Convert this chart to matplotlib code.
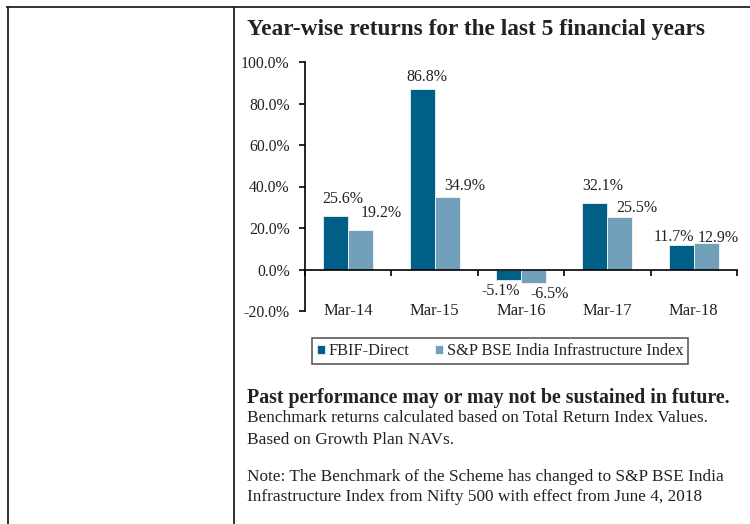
import matplotlib.pyplot as plt
from matplotlib.lines import Line2D
import numpy as np

categories = ['Mar-14', 'Mar-15', 'Mar-16', 'Mar-17', 'Mar-18']
fund = [25.6, 86.8, -5.1, 32.1, 11.7]
bench = [19.2, 34.9, -6.5, 25.5, 12.9]
series_names = ['FBIF-Direct', 'S&P BSE India Infrastructure Index']
yticks = [-20, 0, 20, 40, 60, 80, 100]

# label nudges in pixels (dx, dy) as placed in the original
fund_nudge = [(7, 17), (5, 12), (-8, -11), (8, 17), (-7, 8)]
bench_nudge = [(20, 17), (18, 11), (16, -11), (17, 9), (12, 5)]

dark = '#005F87'
light = '#72A0BA'
ink = '#222222'
plt.rcParams['font.family'] = ['Liberation Serif', 'DejaVu Serif']

W, H = 750, 524
fig = plt.figure(figsize=(7.5, 5.24), dpi=100)

# table frame
def fx(x): return x / W
def fy(y): return 1 - y / H
fig.add_artist(Line2D([fx(7), 1], [fy(7), fy(7)], color=ink, lw=1.3))
fig.add_artist(Line2D([fx(8), fx(8)], [fy(7), 0], color=ink, lw=1.3))
fig.add_artist(Line2D([fx(234), fx(234)], [fy(7), 0], color=ink, lw=1.3))

fig.text(fx(247), fy(29), 'Year-wise returns for the last 5 financial years',
         fontsize=16.8, fontweight='bold', va='center', ha='left', color=ink)

ax = fig.add_axes([fx(305), fy(311), fx(737) - fx(305), fy(62) - fy(311)])
x = np.arange(len(categories))
w = 0.29
b1 = ax.bar(x - w / 2, fund, w, color=dark, edgecolor='white', linewidth=0.5, label=series_names[0])
b2 = ax.bar(x + w / 2, bench, w, color=light, edgecolor='white', linewidth=0.5, label=series_names[1])

for bars, vals, nudge in [(b1, fund, fund_nudge), (b2, bench, bench_nudge)]:
    for r, v, (dx, dy) in zip(bars, vals, nudge):
        yy = r.get_height() if v >= 0 else v
        ax.annotate(f'{v:.1f}%', (r.get_x() + r.get_width() / 2, yy),
                    xytext=(dx, dy), textcoords='offset pixels',
                    ha='center', va='center', fontsize=11.5, color=ink)

ax.set_xlim(-0.5, len(categories) - 0.5)
ax.set_ylim(-20, 100)
ax.set_yticks(yticks)
ax.set_yticklabels([f'{t:.1f}%' for t in yticks], fontsize=11.3, color=ink)
ax.tick_params(axis='y', length=4, width=1.2, direction='out', pad=7)

ax.spines['bottom'].set_position(('data', 0))
ax.spines['bottom'].set_linewidth(1.2)
ax.spines['left'].set_linewidth(1.2)
ax.spines['top'].set_visible(False)
ax.spines['right'].set_visible(False)
ax.set_xticks(np.arange(len(categories) + 1) - 0.5)
ax.set_xticklabels([])
ax.tick_params(axis='x', length=4, width=1.2, direction='out')
for i, c in enumerate(categories):
    ax.text(i, -20, c, ha='center', va='center', fontsize=12, color=ink)

leg = fig.legend(handles=[b1, b2], loc='center', bbox_to_anchor=(fx(500), fy(351)),
                 ncol=2, fontsize=11.8, frameon=True, fancybox=False, edgecolor='#333333',
                 handlelength=0.5, handleheight=0.5, handletextpad=0.2, columnspacing=1.6,
                 borderpad=0.3)
leg.get_frame().set_linewidth(1.2)
for t in leg.get_texts():
    t.set_color(ink)

fig.text(fx(247), fy(398), 'Past performance may or may not be sustained in future.',
         fontsize=14.3, fontweight='bold', va='center', color=ink)
fig.text(fx(247), fy(418), 'Benchmark returns calculated based on Total Return Index Values.',
         fontsize=12.4, va='center', color=ink)
fig.text(fx(247), fy(440), 'Based on Growth Plan NAVs.', fontsize=12.4, va='center', color=ink)
fig.text(fx(247), fy(477), 'Note: The Benchmark of the Scheme has changed to S&P BSE India',
         fontsize=12.4, va='center', color=ink)
fig.text(fx(247), fy(497), 'Infrastructure Index from Nifty 500 with effect from June 4, 2018',
         fontsize=12.4, va='center', color=ink)

fig.savefig('out.png', dpi=100)
